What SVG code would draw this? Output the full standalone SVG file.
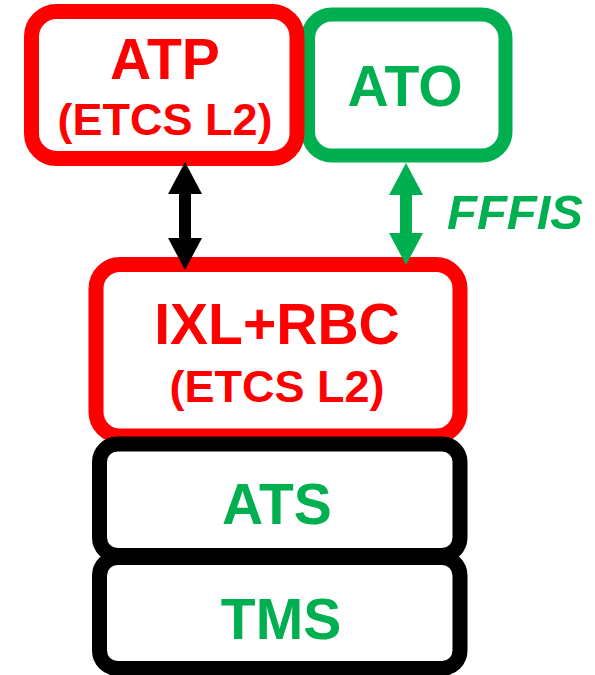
<svg xmlns="http://www.w3.org/2000/svg" width="595" height="675" viewBox="0 0 595 675">
  <style>
    .box { fill: #FFFFFF; }
    .red { stroke: #FF0000; stroke-width: 15; }
    .green { stroke: #00B050; stroke-width: 14; }
    .black { stroke: #000000; stroke-width: 15; }
    text { font-family: "Liberation Sans", Arial, sans-serif; font-weight: bold; text-anchor: middle; }
    .big { font-size: 57px; }
    .small { font-size: 45px; }
    .tr { fill: #FF0000; }
    .tg { fill: #00B050; }
  </style>
  <defs>
    <marker id="headBlack" markerUnits="userSpaceOnUse" markerWidth="32" markerHeight="34" refX="0" refY="17" orient="auto-start-reverse" viewBox="0 0 32 34">
      <path d="M0,0 L32,17 L0,34 Z" fill="#000000"/>
    </marker>
    <marker id="headGreen" markerUnits="userSpaceOnUse" markerWidth="32" markerHeight="34" refX="0" refY="17" orient="auto-start-reverse" viewBox="0 0 32 34">
      <path d="M0,0 L32,17 L0,34 Z" fill="#00B050"/>
    </marker>
  </defs>

  <g id="ATO">
    <rect class="box green" x="308" y="14.5" width="197.5" height="141" rx="24"/>
    <text class="big tg" x="405" y="106">ATO</text>
  </g>

  <g id="ATP">
    <rect class="box red" x="31.5" y="11.5" width="265.5" height="147" rx="25"/>
    <text class="big tr" x="165" y="79">ATP</text>
    <text class="small tr" x="165" y="135">(ETCS L2)</text>
  </g>

  <g id="IXL_RBC">
    <rect class="box red" x="96" y="264.5" width="364" height="171.5" rx="24"/>
    <text class="big tr" x="277" y="344">IXL+RBC</text>
    <text class="small tr" x="277" y="402">(ETCS L2)</text>
  </g>

  <g id="ATS">
    <rect class="box black" x="99.5" y="444" width="360.5" height="111.5" rx="18"/>
    <text class="big tg" x="277" y="524">ATS</text>
  </g>

  <g id="TMS">
    <rect class="box black" x="99.5" y="557.5" width="360.5" height="111" rx="18"/>
    <text class="big tg" x="281" y="639">TMS</text>
  </g>

  <g id="connectors">
    <line x1="185" y1="194" x2="185" y2="238" stroke="#000000" stroke-width="12" marker-start="url(#headBlack)" marker-end="url(#headBlack)"/>
    <line x1="406" y1="195" x2="406" y2="233" stroke="#00B050" stroke-width="12" marker-start="url(#headGreen)" marker-end="url(#headGreen)"/>
    <text x="515" y="229" font-size="49" font-style="italic" class="tg">FFFIS</text>
  </g>
</svg>
